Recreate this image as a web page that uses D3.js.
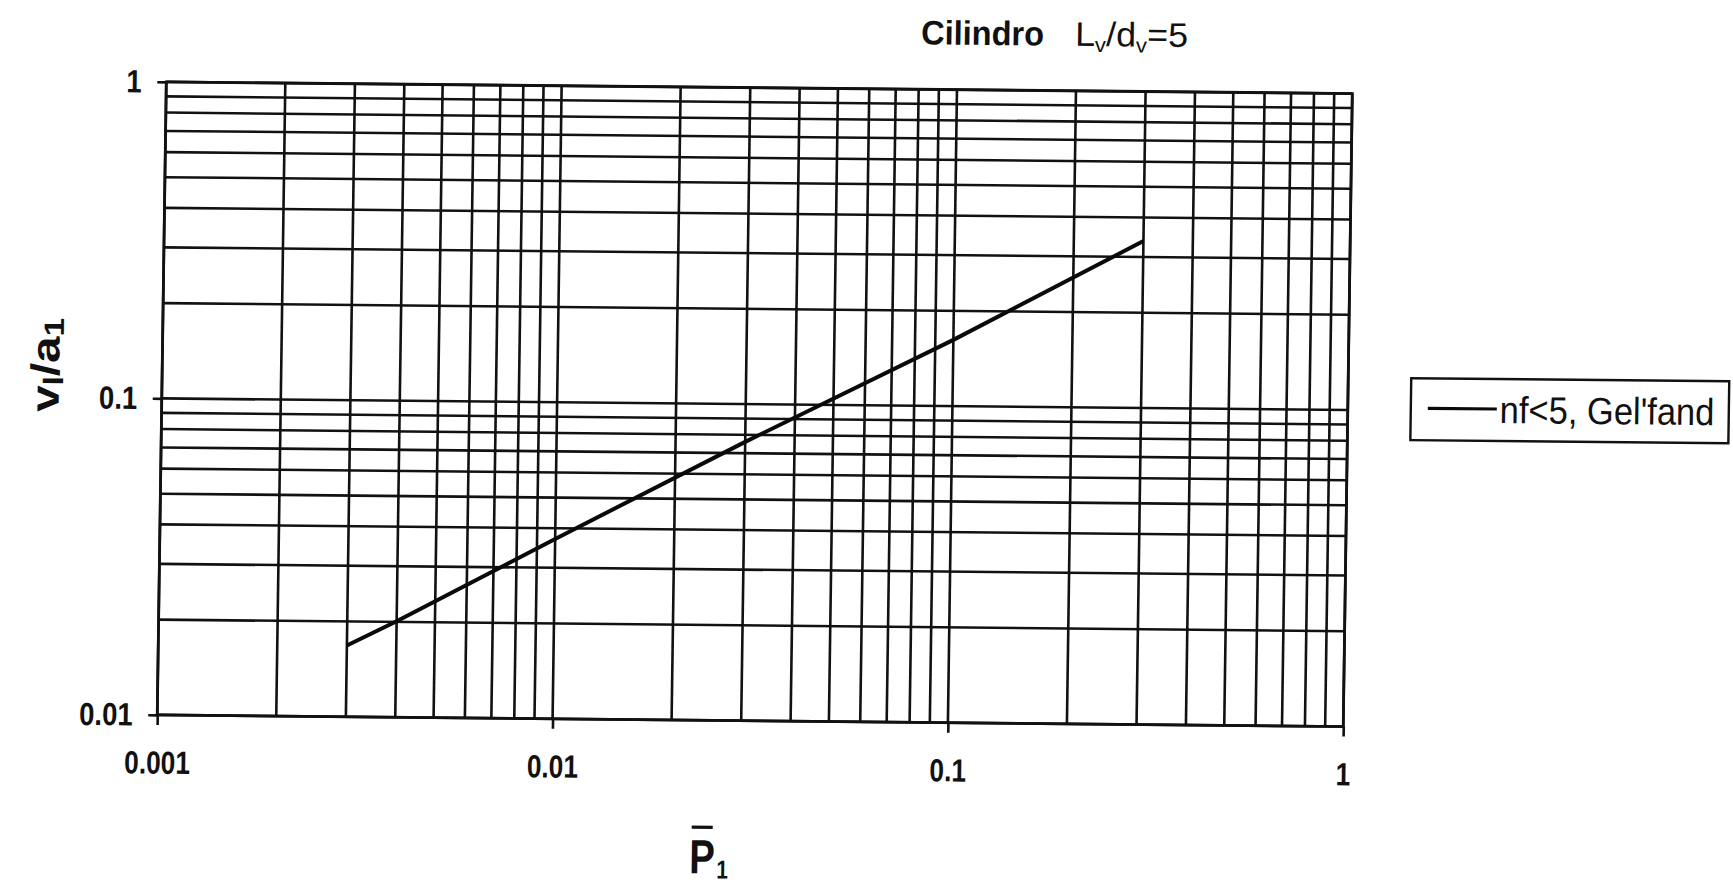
<!DOCTYPE html>
<html>
<head>
<meta charset="utf-8">
<script src="https://cdn.jsdelivr.net/npm/d3@7"></script>
<style>
  html, body { margin: 0; padding: 0; background: #ffffff; }
  svg { display: block; }
  text { font-family: "Liberation Sans", Arial, sans-serif; fill: #111; }
</style>
</head>
<body>
<svg id="chart" width="1733" height="885"></svg>
<script>
// Axis ranges and tick labels
const xDomain = [0.001, 1];
const yDomain = [0.01, 1];
const xTickValues = [0.001, 0.01, 0.1, 1];
const xTickLabels = ["0.001", "0.01", "0.1", "1"];
const yTickValues = [0.01, 0.1, 1];
const yTickLabels = ["0.01", "0.1", "1"];

// Series: nf<5, Gel'fand
const seriesName = "nf<5, Gel'fand";
const seriesP = [0.003, 0.004, 0.01, 0.03, 0.1, 0.3];
const seriesV = [0.0168, 0.0201, 0.037, 0.076, 0.162, 0.337];

const W = 1186, H = 633;
const svg = d3.select("#chart");
svg.append("rect").attr("width", 1733).attr("height", 885).attr("fill", "#fff");

// whole figure sits slightly skewed on the page
const g = svg.append("g")
  .attr("transform", "matrix(1,0.00982,-0.0143,1,166.3,81.9)");

const x = d3.scaleLog().domain(xDomain).range([0, W]);
const y = d3.scaleLog().domain(yDomain).range([H, 0]);

const ink = "#111";

// log grid: every 1..9 multiple in each decade
g.append("g").selectAll("line").data(x.ticks())
  .join("line")
  .attr("x1", d => x(d)).attr("x2", d => x(d))
  .attr("y1", 0).attr("y2", H)
  .attr("stroke", ink).attr("stroke-width", 2.6);

g.append("g").selectAll("line").data(y.ticks())
  .join("line")
  .attr("x1", 0).attr("x2", W)
  .attr("y1", d => y(d)).attr("y2", d => y(d))
  .attr("stroke", ink).attr("stroke-width", 2.6);

g.append("rect").attr("width", W).attr("height", H)
  .attr("fill", "none").attr("stroke", ink).attr("stroke-width", 2.8);

// axes
const xAxis = g.append("g").attr("transform", `translate(0,${H})`)
  .call(d3.axisBottom(x).tickValues(xTickValues).tickSize(10).tickPadding(26)
    .tickFormat((d, i) => xTickLabels[i]));
const yAxis = g.append("g")
  .call(d3.axisLeft(y).tickValues(yTickValues).tickSize(9).tickPadding(15.5)
    .tickFormat((d, i) => yTickLabels[i]));

[xAxis, yAxis].forEach((ax, k) => {
  ax.select(".domain").remove();
  ax.selectAll(".tick line").attr("stroke", ink).attr("stroke-width", 2.6);
  ax.selectAll(".tick text")
    .attr("fill", "#111")
    .style("font-family", "'Liberation Sans', Arial, sans-serif")
    .style("font-size", "32px")
    .style("font-weight", "bold")
    .each(function () {
      const len = this.getComputedTextLength();
      d3.select(this).attr("textLength", len * (k === 0 ? 0.82 : 0.86))
        .attr("lengthAdjust", "spacingAndGlyphs");
    });
});

// data line
const line = d3.line().x(d => x(d[0])).y(d => y(d[1]));
g.append("path")
  .datum(d3.zip(seriesP, seriesV))
  .attr("d", line)
  .attr("fill", "none")
  .attr("stroke", "#0a0a0a")
  .attr("stroke-width", 4);

// title
g.append("text")
  .attr("x", 754).attr("y", -45)
  .style("font-size", "34px").style("font-weight", "bold")
  .attr("textLength", 123).attr("lengthAdjust", "spacingAndGlyphs")
  .text("Cilindro");
const t2 = g.append("text")
  .attr("x", 908).attr("y", -45)
  .style("font-size", "34px")
  .attr("textLength", 113).attr("lengthAdjust", "spacingAndGlyphs");
t2.append("tspan").text("L");
t2.append("tspan").attr("dy", 6).style("font-size", "21px").text("v");
t2.append("tspan").attr("dy", -6).text("/d");
t2.append("tspan").attr("dy", 6).style("font-size", "21px").text("v");
t2.append("tspan").attr("dy", -6).text("=5");

// y axis title
const yt = g.append("text")
  .attr("transform", "translate(-103,284) rotate(-90)")
  .attr("text-anchor", "middle")
  .style("font-size", "40px").style("font-weight", "bold")
  .attr("textLength", 94).attr("lengthAdjust", "spacingAndGlyphs");
yt.append("tspan").text("v");
yt.append("tspan").attr("dy", 4).style("font-size", "28px").text("l");
yt.append("tspan").attr("dy", -4).text("/a");
yt.append("tspan").attr("dy", 4).style("font-size", "28px").text("1");

// x axis title with bar over P
const xt = g.append("text")
  .attr("transform", "translate(534,786) scale(0.8,1)")
  .style("font-size", "48px").style("font-weight", "bold");
xt.append("tspan").text("P");
xt.append("tspan").attr("dx", 2).attr("dy", 5).style("font-size", "26px").text("1");
g.append("line")
  .attr("x1", 536).attr("x2", 557).attr("y1", 740).attr("y2", 740)
  .attr("stroke", "#111").attr("stroke-width", 3.2);

// legend
const lg = g.append("g").attr("transform", "translate(1249,284)");
lg.append("rect").attr("width", 318).attr("height", 62)
  .attr("fill", "#fff").attr("stroke", ink).attr("stroke-width", 2.4);
lg.append("line").attr("x1", 17).attr("x2", 86).attr("y1", 30).attr("y2", 30)
  .attr("stroke", "#0a0a0a").attr("stroke-width", 3.2);
lg.append("text")
  .attr("transform", "translate(89,44) scale(1,1.1)")
  .style("font-size", "34.5px")
  .text(seriesName);
</script>
</body>
</html>
